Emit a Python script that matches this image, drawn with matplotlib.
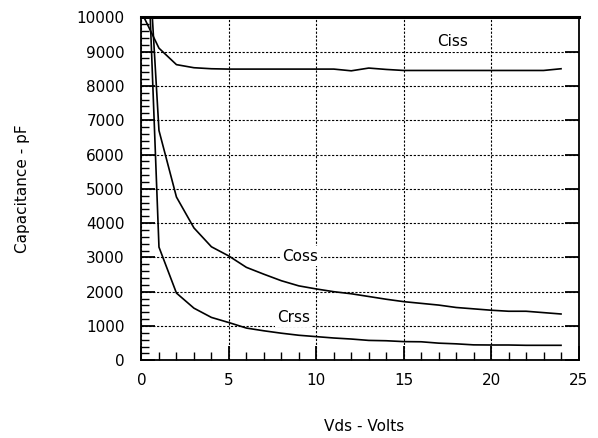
"""Capacitance vs drain-source voltage (Ciss, Coss, Crss)."""

import matplotlib

matplotlib.use("Agg")
import matplotlib.pyplot as plt
from matplotlib.ticker import MultipleLocator

# Data (values above 10000 get clipped by the axis)
vds = [0, 1, 2, 3, 4, 5, 6, 7, 8, 9, 10, 11, 12, 13, 14, 15, 16, 17, 18, 19, 20, 21, 22, 23, 24]
ciss = [10150, 9100, 8620, 8530, 8500, 8490, 8490, 8490, 8490, 8490, 8490, 8490, 8440, 8520,
        8480, 8450, 8450, 8450, 8450, 8450, 8450, 8450, 8450, 8450, 8500]
coss = [15400, 6700, 4760, 3860, 3310, 3040, 2710, 2510, 2320, 2170, 2080, 2000, 1940, 1860,
        1780, 1710, 1660, 1610, 1540, 1500, 1460, 1430, 1430, 1390, 1350]
crss = [16700, 3300, 1960, 1520, 1250, 1100, 940, 860, 790, 730, 690, 650, 620, 580,
        570, 545, 540, 500, 480, 450, 446, 446, 437, 437, 437]

curve_labels = ["Ciss", "Coss", "Crss"]
label_pos = [(17.8, 9280), (9.1, 3040), (8.7, 1240)]

x_ticks = [0, 5, 10, 15, 20, 25]
y_ticks = [0, 1000, 2000, 3000, 4000, 5000, 6000, 7000, 8000, 9000, 10000]

figure = plt.figure(figsize=(5.98, 4.38), dpi=100)
axis = figure.add_axes([0.2366, 0.1774, 0.7308, 0.7831])

for series in (ciss, coss, crss):
    axis.plot(vds, series, color="black", linewidth=1.2, clip_on=True)

for text, (tx, ty) in zip(curve_labels, label_pos):
    axis.text(tx, ty, text, ha="center", va="center", fontsize=11,
              bbox=dict(facecolor="white", edgecolor="none", pad=1.5))

axis.set_xlim(0, 25)
axis.set_ylim(0, 10000)
axis.set_xticks(x_ticks)
axis.set_yticks(y_ticks)
axis.xaxis.set_minor_locator(MultipleLocator(1))
axis.yaxis.set_minor_locator(MultipleLocator(200))
axis.tick_params(which="major", direction="in", length=10, width=1.3,
                 labelsize=11, pad=9, right=True, top=False)
axis.tick_params(which="minor", direction="in", length=6, width=1.0,
                 right=False, top=False)
axis.tick_params(axis="y", which="major", pad=12)

axis.grid(which="major", color="black", linestyle=(0, (2, 1.5)), linewidth=0.8)
axis.set_axisbelow(True)
for side in ("left", "right", "bottom"):
    axis.spines[side].set_linewidth(1.3)
axis.spines["top"].set_linewidth(2.2)

axis.set_xlabel("Vds - Volts", fontsize=11)
axis.set_ylabel("Capacitance - pF", fontsize=11)
axis.xaxis.set_label_coords(0.51, -0.172)
axis.yaxis.set_label_coords(-0.256, 0.5)

figure.savefig("out.png", dpi=100)
plt.close(figure)
